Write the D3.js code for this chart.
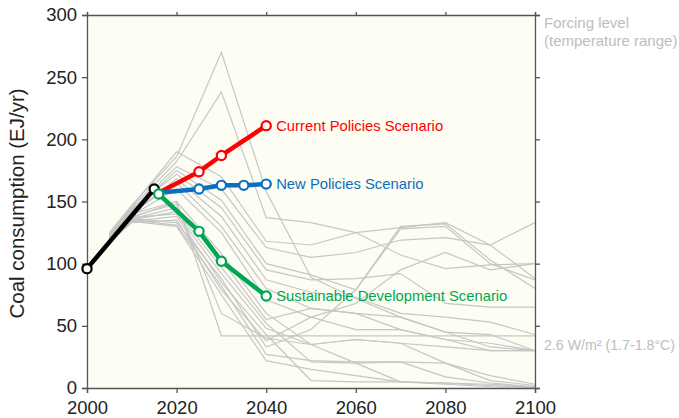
<!DOCTYPE html>
<html><head><meta charset="utf-8">
<script src="https://cdn.jsdelivr.net/npm/d3@7"></script>
<style>body{margin:0;background:#fff}svg{display:block}text{font-family:"Liberation Sans",Arial,Helvetica,sans-serif}</style>
</head><body><div id="chart"></div>
<script>
// ---- data ----
const grayYears = [2005, 2010, 2020, 2030, 2040, 2050, 2060, 2070, 2080, 2090, 2100];
const graySeries = [
  [125,147,186,270,158, 89, 72, 57, 45, 33, 30],
  [124,145,182,238,137,133,125,129,133,115, 88],
  [123,146,190,170,118,115,125,107, 96, 99,100],
  [122,143,178,160,113,105,109,119,121,115,133],
  [121,142,175,151,100, 91, 79,130,132,103, 80],
  [123,144,172,145, 95, 87, 88, 92, 68, 65, 65],
  [120,140,168,138, 87, 77, 73, 60, 57, 53, 43],
  [122,141,165,130, 80, 64, 60, 57, 45, 43, 30],
  [121,139,160,125, 71, 57, 47, 47, 39, 36, 30],
  [121,140,150, 42, 42, 42, 42, 42, 42, 42, 42],
  [119,137,150,108, 60, 35, 39, 36, 20,  6,  2],
  [118,136,145,103, 55, 64, 60, 47, 39, 30, 30],
  [119,135,142, 97, 52, 21, 20, 21,  9,  4,  1],
  [120,137,140, 92, 48, 35, 20,  5,  4,  3,  1],
  [118,134,138, 85, 43,  6,  5,  5,  4,  2,0.5],
  [117,133,135, 79, 38, 57, 68, 95,109, 95,100],
  [119,136,133, 88, 33, 47, 79,128,130,100, 87],
  [118,135,131, 82, 27, 22, 21, 21, 20, 10,  3],
  [117,134,130, 75, 22, 15, 10,  5,  3,  1,0.5],
  [120,138,148, 60, 40, 35, 39, 36, 33, 30, 30]
];
const historyYears = [2000, 2015];
const historyValues = [96, 160];
const cpsYears = [2016, 2025, 2030, 2040];
const cpsValues = [157, 174, 187, 211];
const npsYears = [2016, 2025, 2030, 2035, 2040];
const npsValues = [157, 160, 163, 163, 164];
const sdsYears = [2016, 2025, 2030, 2040];
const sdsValues = [156, 126, 102, 74];
const scenarioNames = ["Current Policies Scenario", "New Policies Scenario", "Sustainable Development Scenario"];
const xTicks = [2000, 2020, 2040, 2060, 2080, 2100];
const yTicks = [0, 50, 100, 150, 200, 250, 300];
const yTitle = "Coal consumption (EJ/yr)";
const rightTitle = ["Forcing level", "(temperature range)"];
const rightLabel = "2.6 W/m² (1.7-1.8°C)";
const rightLabelValue = 35;

// ---- layout ----
const W = 679, H = 418;
const m = {l: 87, r: 144, t: 15, b: 30};
const svg = d3.select("#chart").append("svg").attr("width", W).attr("height", H);
const x = d3.scaleLinear().domain([2000, 2100]).range([m.l, W - m.r]);
const y = d3.scaleLinear().domain([0, 300]).range([H - m.b, m.t]);

svg.append("rect").attr("x", x(2000)).attr("y", y(300))
  .attr("width", x(2100) - x(2000)).attr("height", y(0) - y(300)).attr("fill", "#fdfdf3");

const line = d3.line().x(d => x(d[0])).y(d => y(d[1]));

// gray scenarios
svg.append("g").selectAll("path").data(graySeries).join("path")
  .attr("d", s => line(s.map((v, i) => [grayYears[i], v])))
  .attr("fill", "none").attr("stroke", "#c6c6c6").attr("stroke-width", 1.2);

// axes
const axisColor = "#555";
const gL = svg.append("g").attr("transform", `translate(${x(2000)},0)`)
  .call(d3.axisLeft(y).tickValues(yTicks).tickSize(5).tickPadding(5));
const gB = svg.append("g").attr("transform", `translate(0,${y(0)})`)
  .call(d3.axisBottom(x).tickValues(xTicks).tickFormat(d3.format("d")).tickSize(5).tickPadding(8));
const gR = svg.append("g").attr("transform", `translate(${x(2100)},0)`)
  .call(d3.axisRight(y).tickValues(yTicks).tickSize(5).tickFormat(""));
const gT = svg.append("g").attr("transform", `translate(0,${y(300)})`)
  .call(d3.axisTop(x).tickValues(xTicks).tickSize(3).tickFormat(""));
[gL, gB, gR, gT].forEach(g => {
  g.select(".domain").attr("stroke", axisColor).attr("stroke-width", 1.3);
  g.selectAll(".tick line").attr("stroke", axisColor).attr("stroke-width", 1.3);
  g.selectAll("text").attr("fill", "#222").attr("font-size", 18.5)
    .attr("font-family", "Liberation Sans, Arial, sans-serif");
});

svg.append("text").attr("transform", `translate(24,${(y(0)+y(300))/2 + 2}) rotate(-90)`)
  .attr("text-anchor", "middle").attr("font-size", 20.5).attr("fill", "#222").text(yTitle);

// scenario lines
function drawSeries(xs, vs, color, start, labelIdx) {
  const pts = xs.map((yr, i) => [yr, vs[i]]);
  svg.append("path").attr("d", line(pts)).attr("fill", "none")
    .attr("stroke", color).attr("stroke-width", 4.5).attr("stroke-linejoin", "round");
  svg.append("g").selectAll("circle").data(pts.slice(start)).join("circle")
    .attr("cx", d => x(d[0])).attr("cy", d => y(d[1])).attr("r", 4.6)
    .attr("fill", "#fff").attr("stroke", color).attr("stroke-width", 2.2);
  if (labelIdx != null) {
    const last = pts[pts.length - 1];
    svg.append("text").attr("x", x(last[0]) + 10).attr("y", y(last[1]) + 5)
      .attr("font-size", 14.8).attr("fill", color).text(scenarioNames[labelIdx]);
  }
}
drawSeries(historyYears, historyValues, "#000", 0, null);
drawSeries(cpsYears, cpsValues, "#ff0000", 1, 0);
drawSeries(npsYears, npsValues, "#0a6fc2", 1, 1);
drawSeries(sdsYears, sdsValues, "#00a651", 0, 2);

// right annotations
svg.append("g").selectAll("text").data(rightTitle).join("text")
  .attr("x", x(2100) + 9).attr("y", (d, i) => 28 + i * 18)
  .attr("font-size", 15).attr("fill", "#bdbdbd").text(d => d);
svg.append("text").attr("x", x(2100) + 9).attr("y", y(rightLabelValue) + 5.5)
  .attr("font-size", 14.2).attr("fill", "#bdbdbd").text(rightLabel);
</script></body></html>
